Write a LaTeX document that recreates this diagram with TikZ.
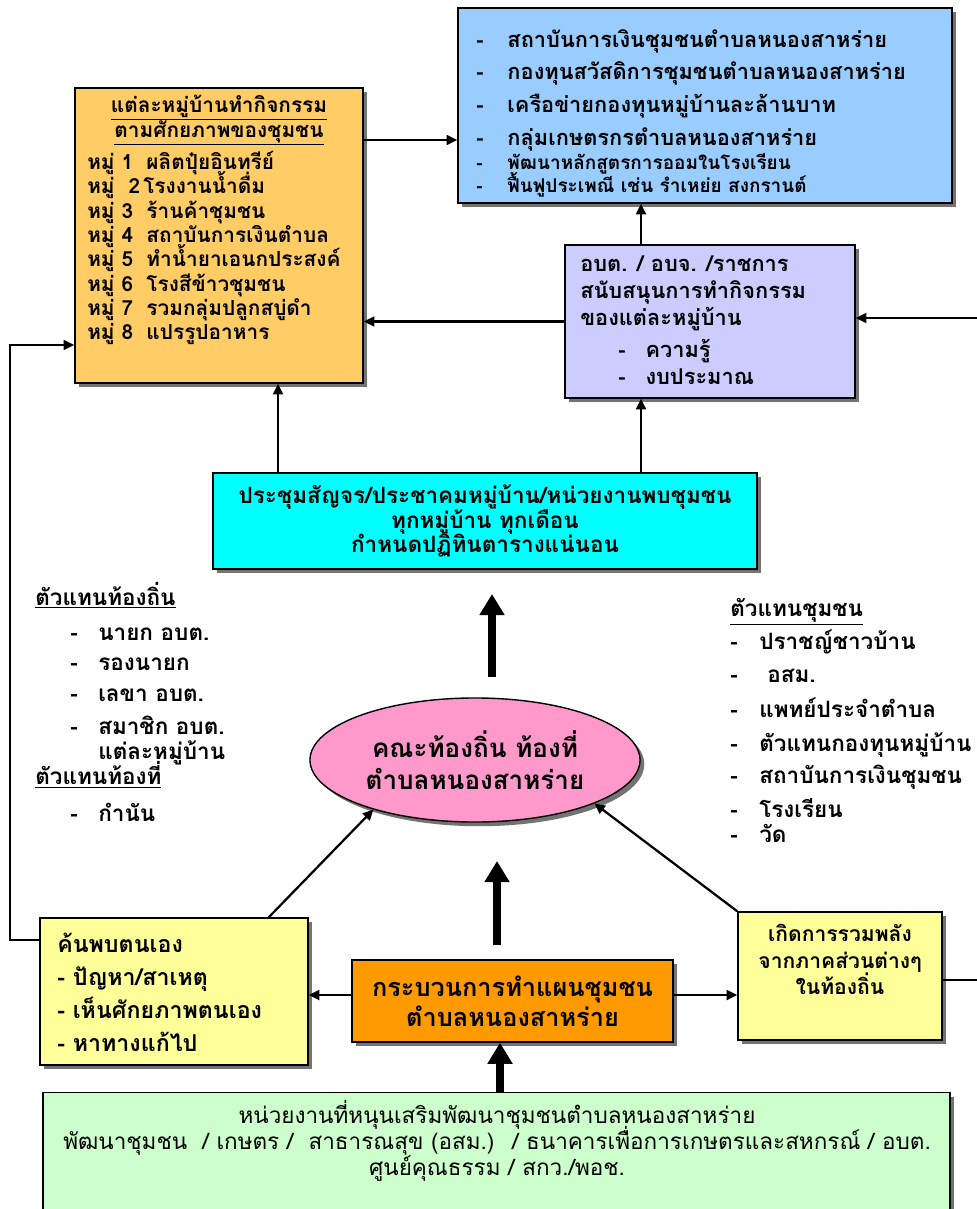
\documentclass[tikz,border=0pt]{standalone}
\usepackage{fontspec}
\newfontfamily\thaifont[Script=Thai]{Loma}
\usetikzlibrary{arrows.meta,shapes.geometric,shadows}

\definecolor{villorange}{HTML}{FFCC66}
\definecolor{fundblue}{HTML}{99CCFF}
\definecolor{govlilac}{HTML}{CCCCFF}
\definecolor{meetcyan}{HTML}{00FFFF}
\definecolor{boardpink}{HTML}{FF99CC}
\definecolor{noteyellow}{HTML}{FFFF99}
\definecolor{planorange}{HTML}{FF9900}
\definecolor{supportgreen}{HTML}{CCFFCC}

% Thai text at a given size and line distance
\newcommand{\thaisize}[2]{\thaifont\bfseries\fontsize{#1}{#2}\selectfont\lineskiplimit=-30pt\relax}
\newcommand{\thaiplain}[2]{\thaifont\fontsize{#1}{#2}\selectfont\lineskiplimit=-30pt\relax}

\tikzset{
  panel/.style={draw, line width=1pt, inner sep=0pt,
    drop shadow={shadow xshift=3pt, shadow yshift=-3pt, fill=black!55, opacity=1}},
  txt/.style={inner sep=0pt, align=left, font=\thaisize{14.8}{17.3}},
  conn/.style={line width=1.6pt, -{Triangle[length=7.5pt,width=7pt]}},
  bigconn/.style={line width=5.5pt, -{Triangle[length=15pt,width=17pt]}},
}

\begin{document}
\begin{tikzpicture}[x=0.025cm, y=-0.025cm]
\useasboundingbox (0,0) rectangle (977,1209);

% Rows and columns used by the connectors
\coordinate (rowA) at (0,140);
\coordinate (rowB) at (0,995);
\coordinate (rowC) at (0,940);
\coordinate (rowD) at (0,345);
\coordinate (rowE) at (0,980);
\coordinate (rowF) at (0,318);
\coordinate (colA) at (278,0);
\coordinate (colB) at (641,0);
\coordinate (colC) at (500,0);
\coordinate (loopL) at (10,0);
\coordinate (loopR) at (995,0);

% Draw the boxes
\node[panel, fill=villorange, minimum width=7.2cm, minimum height=7.375cm] (vill) at (219,235.5) {};
\node[panel, fill=fundblue, minimum width=12.35cm, minimum height=4.875cm] (fund) at (705,105.5) {};
\node[panel, fill=govlilac, minimum width=7.25cm, minimum height=3.825cm] (gov) at (710,321.5) {};
\node[panel, fill=meetcyan, minimum width=13.6cm, minimum height=2.4cm, align=center,
  font=\thaisize{16}{17.4}] (meet) at (485,521)
  {ประชุมสัญจร/ประชาคมหมู่บ้าน/หน่วยงานพบชุมชน\\ทุกหมู่บ้าน ทุกเดือน\\กำหนดปฏิทินตารางแน่นอน};
\node[panel, ellipse, fill=boardpink, minimum width=8.25cm, minimum height=3.1cm, align=center,
  font=\thaisize{18.5}{22.7}] (board) at (475,760)
  {คณะท้องถิ่น ท้องที่\\ตำบลหนองสาหร่าย};
\node[panel, fill=noteyellow, minimum width=6.7cm, minimum height=3.675cm] (self) at (174,991.5) {};
\node[panel, fill=planorange, minimum width=8.025cm, minimum height=2.05cm, align=center,
  font=\thaisize{18}{21.3}] (plan) at (512.5,1001)
  {กระบวนการทำแผนชุมชน\\ตำบลหนองสาหร่าย};
\node[panel, fill=noteyellow, minimum width=5.1cm, minimum height=3.2cm] (unite) at (840,976) {};
\node[panel, fill=supportgreen, minimum width=22.675cm, minimum height=3.5cm, anchor=north] (support) at (496.5,1092) {};

% Texts inside the boxes
\node[txt, align=center, anchor=north] (villhead) at (219,95)
  {\underline{แต่ละหมู่บ้านทำกิจกรรม}\\\underline{ตามศักยภาพของชุมชน}};
\node[txt, anchor=north west] (villlist) at (87,151)
  {\makebox[1.48cm][l]{หมู่ 1}ผลิตปุ๋ยอินทรีย์\\
   \makebox[1.4cm][l]{หมู่ \ 2}โรงงานน้ำดื่ม\\
   \makebox[1.48cm][l]{หมู่ 3}ร้านค้าชุมชน\\
   \makebox[1.48cm][l]{หมู่ 4}สถาบันการเงินตำบล\\
   \makebox[1.48cm][l]{หมู่ 5}ทำน้ำยาเอนกประสงค์\\
   \makebox[1.48cm][l]{หมู่ 6}โรงสีข้าวชุมชน\\
   \makebox[1.48cm][l]{หมู่ 7}รวมกลุ่มปลูกสบู่ดำ\\
   \makebox[1.48cm][l]{หมู่ 8}แปรรูปอาหาร};
\node[txt, anchor=north west, font=\thaisize{15.5}{23.2}] (fundlist) at (476,29)
  {\makebox[0.78cm][l]{-}สถาบันการเงินชุมชนตำบลหนองสาหร่าย\\
   \makebox[0.78cm][l]{-}กองทุนสวัสดิการชุมชนตำบลหนองสาหร่าย\\
   \makebox[0.78cm][l]{-}เครือข่ายกองทุนหมู่บ้านละล้านบาท\\
   \makebox[0.78cm][l]{-}กลุ่มเกษตรกรตำบลหนองสาหร่าย};
\node[txt, anchor=north west, font=\thaisize{13.5}{16.4}] (fundlist2) at (476,153)
  {\makebox[0.78cm][l]{-}พัฒนาหลักสูตรการออมในโรงเรียน\\
   \makebox[0.78cm][l]{-}ฟื้นฟูประเพณี เช่น รำเหย่ย สงกรานต์};
\node[txt, anchor=north west, font=\thaisize{15.5}{19.2}] (govtext) at (580,256)
  {อบต. / อบจ. /ราชการ\\สนับสนุนการทำกิจกรรม\\ของแต่ละหมู่บ้าน\\[3.5pt]
   \hspace*{0.95cm}\makebox[0.68cm][l]{-}ความรู้\\
   \hspace*{0.95cm}\makebox[0.68cm][l]{-}งบประมาณ};
\node[txt, anchor=north west, font=\thaisize{16.5}{23.4}] (selftext) at (57,933)
  {ค้นพบตนเอง\\- ปัญหา/สาเหตุ\\- เห็นศักยภาพตนเอง\\- หาทางแก้ไป};
\node[txt, align=center, anchor=north, font=\thaisize{15}{18.8}] (unitetext) at (840,924)
  {เกิดการรวมพลัง\\จากภาคส่วนต่างๆ\\ในท้องถิ่น};
\node[txt, align=center, anchor=north, font=\thaiplain{16}{18.5}] (supporttext) at (497,1100)
  {หน่วยงานที่หนุนเสริมพัฒนาชุมชนตำบลหนองสาหร่าย\\
   พัฒนาชุมชน \ / เกษตร / \ สาธารณสุข (อสม.) \ / ธนาคารเพื่อการเกษตรและสหกรณ์ / อบต.\\
   ศูนย์คุณธรรม / สกว./พอช.};

% Free texts on both sides
\node[txt, anchor=north west, font=\thaisize{16}{17.3}] (localrep) at (35,582)
  {\underline{ตัวแทนท้องถิ่น}\\[7.5pt]
   \hspace*{0.875cm}\makebox[0.7cm][l]{-}นายก อบต.\\[4pt]
   \hspace*{0.875cm}\makebox[0.7cm][l]{-}รองนายก\\[4.7pt]
   \hspace*{0.875cm}\makebox[0.7cm][l]{-}เลขา อบต.\\[6.1pt]
   \hspace*{0.875cm}\makebox[0.7cm][l]{-}สมาชิก อบต.\\[1.1pt]
   \hspace*{1.575cm}แต่ละหมู่บ้าน\\[0.4pt]
   \underline{ตัวแทนท้องที่}\\[9pt]
   \hspace*{0.875cm}\makebox[0.7cm][l]{-}กำนัน};
\node[txt, anchor=north west, font=\thaisize{16}{17.3}] (commrep) at (730,598)
  {\underline{ตัวแทนชุมชน}\\[6.1pt]
   \makebox[0.725cm][l]{-}ปราชญ์ชาวบ้าน\\[6.1pt]
   \makebox[0.725cm][l]{-}\hspace*{0.2cm}อสม.\\[7.5pt]
   \makebox[0.725cm][l]{-}แพทย์ประจำตำบล\\[6.8pt]
   \makebox[0.725cm][l]{-}ตัวแทนกองทุนหมู่บ้าน\\[6.1pt]
   \makebox[0.725cm][l]{-}สถาบันการเงินชุมชน\\[6.8pt]
   \makebox[0.725cm][l]{-}โรงเรียน\\[0.4pt]
   \makebox[0.725cm][l]{-}วัด};

% Connect the top boxes
\draw[conn] (vill.east |- rowA) -- (fund.west |- rowA);
\draw[conn] (gov.north -| colB) -- (fund.south -| colB);
\draw[conn] (gov.west) -- (vill.east |- gov.west);
\draw[conn] (meet.north -| colA) -- (vill.south -| colA);
\draw[conn] (meet.north -| colB) -- (gov.south -| colB);

% Thick arrows up the middle
\coordinate (upA) at (492,677);
\coordinate (upAend) at (492,594);
\coordinate (upB) at (497,945);
\coordinate (upBend) at (497,861);
\draw[bigconn] (upA) -- (upAend);
\draw[bigconn] (upB) -- (upBend);
\draw[bigconn] (support.north -| colC) -- (plan.south -| colC);

% Arrows round the plan box
\draw[conn] ([xshift=-1cm]self.north east) -- (board.206);
\draw[conn] (unite.north west) -- (board.340);
\draw[conn] (plan.west |- rowB) -- (self.east |- rowB);
\draw[conn] (plan.east |- rowB) -- (unite.west |- rowB);

% Feedback loops on both sides
\draw[conn] (self.west |- rowC) -| (loopL |- rowD) -- (vill.west |- rowD);
\draw[conn] (unite.east |- rowE) -| (loopR |- rowF) -- (gov.east |- rowF);

\end{tikzpicture}
\end{document}
